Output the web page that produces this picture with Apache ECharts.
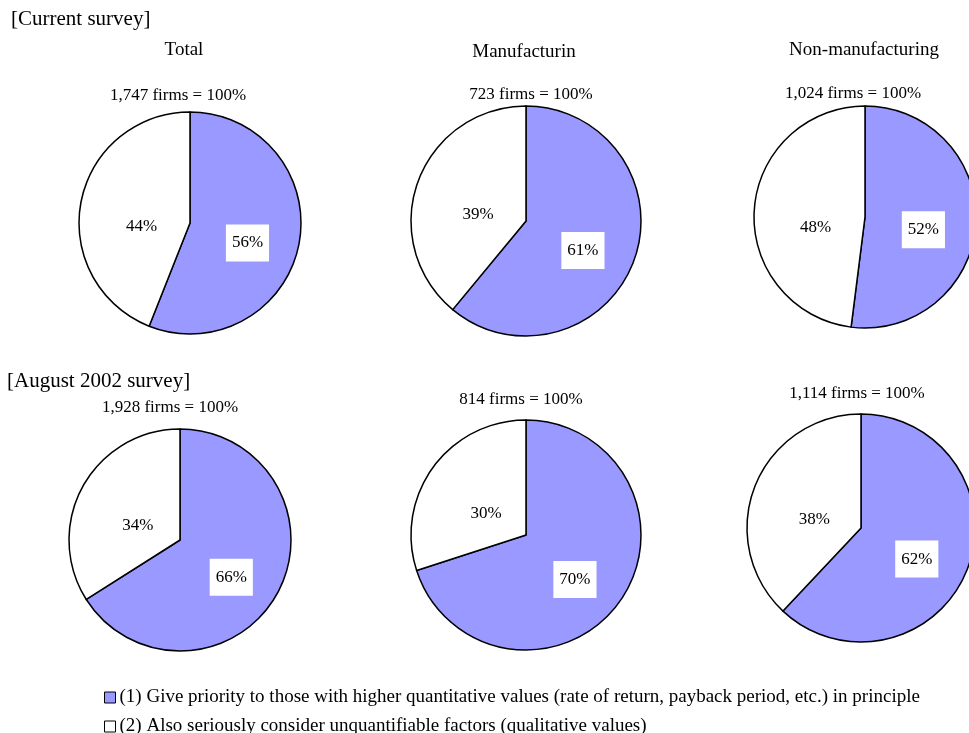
<!DOCTYPE html>
<html>
<head>
<meta charset="utf-8">
<script src="https://cdn.jsdelivr.net/npm/echarts@6/dist/echarts.min.js"></script>
<style>
  html, body { margin: 0; padding: 0; background: #fff; }
  #chart { width: 969px; height: 733px; }
</style>
</head>
<body>
<div id="chart"></div>
<script>
// Survey panels and answer categories
const sectors = ['Total', 'Manufacturin', 'Non-manufacturing'];
const surveys = ['[Current survey]', '[August 2002 survey]'];
const categories = [
  '(1) Give priority to those with higher quantitative values (rate of return, payback period, etc.) in principle',
  '(2) Also seriously consider unquantifiable factors (qualitative values)'
];

// Respondent counts per panel
const currentFirms = ['1,747', '723', '1,024'];
const augustFirms = ['1,928', '814', '1,114'];

// Shares (%) for each answer
const currentQuantitative = [56, 61, 52];
const currentQualitative = [44, 39, 48];
const augustQuantitative = [66, 70, 62];
const augustQualitative = [34, 30, 38];

// Layout of the six pies: [centerX, centerY, radius]
const pieLayout = [
  [[190, 223, 111], [526, 221, 115], [865, 217, 111]],
  [[180, 540, 111], [526, 535, 115], [861, 528, 114]]
];
// Positions of the "n firms = 100%" captions
const captionPos = [
  [[178, 96], [531, 95], [853, 94]],
  [[170, 408], [521, 400], [857, 394]]
];

const FONT = '"Liberation Serif", "Times New Roman", serif';
const PURPLE = '#9999ff';

const chart = echarts.init(document.getElementById('chart'), null, { renderer: 'canvas' });

const rows = [
  { firms: currentFirms, quant: currentQuantitative, qual: currentQualitative },
  { firms: augustFirms, quant: augustQuantitative, qual: augustQualitative }
];

const series = [];
const graphics = [];

rows.forEach((row, r) => {
  for (let i = 0; i < 3; i++) {
    const [cx, cy, rad] = pieLayout[r][i];
    series.push({
      type: 'pie',
      center: [cx, cy],
      radius: [0, rad],
      startAngle: 90,
      clockwise: true,
      silent: true,
      animation: false,
      labelLine: { show: false },
      itemStyle: { borderColor: '#000', borderWidth: 1.5 },
      emphasis: { disabled: true },
      label: {
        show: true,
        position: 'inside',
        fontFamily: FONT,
        fontSize: 17,
        color: '#000',
        formatter: '{c}%'
      },
      data: [
        {
          name: categories[0],
          value: row.quant[i],
          itemStyle: { color: PURPLE },
          label: { backgroundColor: '#fff', padding: [10, 6], offset: [0, 9] }
        },
        {
          name: categories[1],
          value: row.qual[i],
          itemStyle: { color: '#fff' },
          label: { offset: [9, 14] }
        }
      ]
    });
    const [tx, ty] = captionPos[r][i];
    graphics.push({
      type: 'text',
      x: tx, y: ty,
      style: {
        text: row.firms[i] + ' firms = 100%',
        fontFamily: FONT, fontSize: 17, fill: '#000',
        align: 'center', verticalAlign: 'middle'
      }
    });
  }
});

// Section headings
graphics.push(
  { type: 'text', x: 11, y: 19, style: { text: surveys[0], fontFamily: FONT, fontSize: 21, fill: '#000', align: 'left', verticalAlign: 'middle' } },
  { type: 'text', x: 7, y: 381, style: { text: surveys[1], fontFamily: FONT, fontSize: 21, fill: '#000', align: 'left', verticalAlign: 'middle' } }
);
// Sector headings
const sectorPos = [[184, 50], [524, 52], [864, 50]];
sectors.forEach((s, i) => {
  graphics.push({
    type: 'text', x: sectorPos[i][0], y: sectorPos[i][1],
    style: { text: s, fontFamily: FONT, fontSize: 19, fill: '#000', align: 'center', verticalAlign: 'middle' }
  });
});

// One legend row per answer category
const legendCommon = {
  orient: 'vertical',
  left: 104,
  icon: 'rect',
  itemWidth: 11,
  itemHeight: 11,
  itemGap: 0,
  padding: 0,
  selectedMode: false,
  itemStyle: { borderColor: '#000', borderWidth: 1 },
  textStyle: { fontFamily: FONT, fontSize: 19, color: '#000', padding: [0, 0, 0, -1] }
};

chart.setOption({
  backgroundColor: '#fff',
  animation: false,
  legend: [
    Object.assign({}, legendCommon, { data: [categories[0]], top: 688 }),
    Object.assign({}, legendCommon, { data: [categories[1]], top: 717 })
  ],
  graphic: graphics,
  series: series
});
</script>
</body>
</html>
